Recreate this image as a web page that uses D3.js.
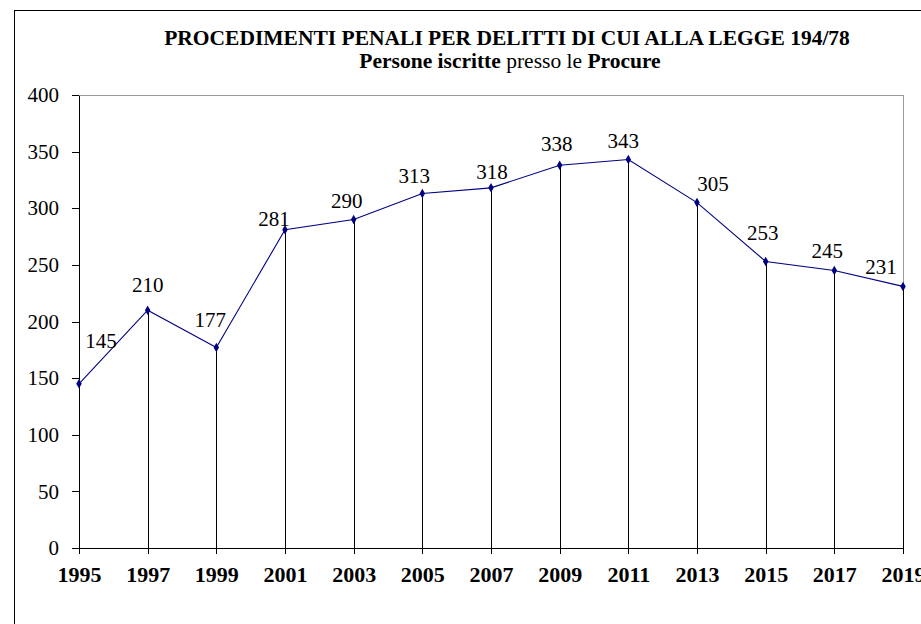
<!DOCTYPE html>
<html lang="it">
<head>
<meta charset="utf-8">
<title>Procedimenti penali - Legge 194/78</title>
<script src="https://cdn.jsdelivr.net/npm/d3@7"></script>
<style>
  body { margin: 0; background: #fff; }
  text { font-family: "Liberation Serif", "Times New Roman", serif; fill: #000; }
  .title { font-size: 21.5px; font-weight: bold; text-anchor: middle; }
  .y.axis text { font-size: 21px; }
  .x.axis text { font-size: 22px; font-weight: bold; }
  .axis path, .axis line { stroke: #000; shape-rendering: crispEdges; }
  .drop { stroke: #000; stroke-width: 1; shape-rendering: crispEdges; }
  .series { fill: none; stroke: #000080; stroke-width: 1.1; }
  .marker { fill: #000080; }
  .label { font-size: 21px; text-anchor: middle; }
</style>
</head>
<body>
<div id="chart"></div>
<script>
var years = [1995, 1997, 1999, 2001, 2003, 2005, 2007, 2009, 2011, 2013, 2015, 2017, 2019];
var persone = [145, 210, 177, 281, 290, 313, 318, 338, 343, 305, 253, 245, 231];
var yTicks = [0, 50, 100, 150, 200, 250, 300, 350, 400];
var titleText = "PROCEDIMENTI PENALI PER DELITTI DI CUI ALLA LEGGE 194/78";

// label nudges (dx, dy) relative to each point, as placed in the original
var labelNudge = [[22, -36], [0, -18], [-6, -21], [-11, -4], [-7, -12], [-8, -11], [1, -9],
                  [-3, -14], [-5, -12], [16, -12], [-3, -21], [-7, -13], [-22, -12]];

var W = 921, H = 624;
var margin = {top: 95, right: 18, bottom: 76, left: 79};
var width = W - margin.left - margin.right,
    height = H - margin.top - margin.bottom;

var svg = d3.select("#chart").append("svg")
    .attr("width", W)
    .attr("height", H);

// outer frame (runs off the right and bottom edges)
svg.append("rect")
   .attr("x", 14.5).attr("y", 10.5)
   .attr("width", W + 20).attr("height", H + 20)
   .attr("fill", "none").attr("stroke", "#000");

svg.append("text")
   .attr("class", "title")
   .attr("x", 507).attr("y", 45)
   .text(titleText);

var sub = svg.append("text")
   .attr("class", "title")
   .attr("x", 510).attr("y", 68);
sub.append("tspan").text("Persone iscritte");
sub.append("tspan").style("font-weight", "normal").text(" presso le ");
sub.append("tspan").text("Procure");

var plt = svg.append("g").attr("transform", "translate(" + margin.left + "," + margin.top + ")");

var x = d3.scaleLinear().domain([1995, 2019]).range([0, width]);
var y = d3.scaleLinear().domain([0, 400]).range([height, 0]);

// plot area border (top + right, grey)
plt.append("path")
   .attr("d", "M0,0.5H" + (width + 0.5) + "V" + height)
   .attr("fill", "none").attr("stroke", "#999")
   .attr("shape-rendering", "crispEdges");

// drop lines
plt.selectAll(".drop")
   .data(persone)
   .enter().append("line")
   .attr("class", "drop")
   .attr("x1", function(d, i) { return Math.round(x(years[i])) + 0.5; })
   .attr("x2", function(d, i) { return Math.round(x(years[i])) + 0.5; })
   .attr("y1", function(d) { return y(d); })
   .attr("y2", height);

var yAxis = d3.axisLeft(y).tickValues(yTicks).tickSizeInner(7).tickSizeOuter(0).tickPadding(13);
plt.append("g").attr("class", "y axis").call(yAxis);

var xAxis = d3.axisBottom(x).tickValues(years).tickFormat(d3.format("d"))
    .tickSizeInner(6).tickSizeOuter(0).tickPadding(12);
plt.append("g").attr("class", "x axis")
   .attr("transform", "translate(0," + height + ")")
   .call(xAxis);

var line = d3.line()
    .x(function(d, i) { return x(years[i]); })
    .y(function(d) { return y(d); });

plt.append("path")
   .datum(persone)
   .attr("class", "series")
   .attr("d", line);

var sym = d3.symbol().type(d3.symbolDiamond).size(26);
plt.selectAll(".marker")
   .data(persone)
   .enter().append("path")
   .attr("class", "marker")
   .attr("transform", function(d, i) { return "translate(" + x(years[i]) + "," + y(d) + ")"; })
   .attr("d", sym);

plt.selectAll(".label")
   .data(persone)
   .enter().append("text")
   .attr("class", "label")
   .attr("x", function(d, i) { return x(years[i]) + labelNudge[i][0]; })
   .attr("y", function(d, i) { return y(d) + labelNudge[i][1]; })
   .text(function(d) { return d; });
</script>
</body>
</html>
